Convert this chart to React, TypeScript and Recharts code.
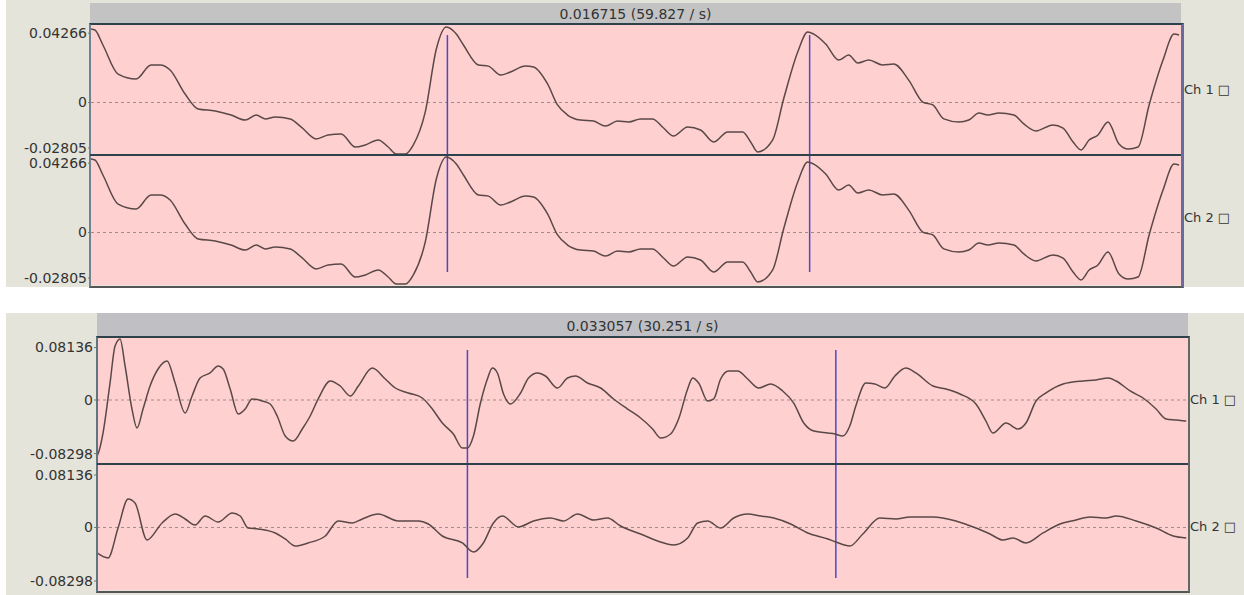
import React from "react"
import { LineChart, Line, XAxis, YAxis, CartesianGrid, ReferenceLine } from "recharts"

/* [time ms, amplitude] */
const topCh1: [number, number][] = [
  [0, 0.0452], [0.18, 0.0446], [0.55, 0.0354], [1.25, 0.0175], [2.08, 0.0145], [2.77, 0.0231],
  [3.19, 0.0231], [3.65, 0.02], [4.34, 0.0052], [4.94, -0.004], [5.73, -0.0052], [6.46, -0.0077],
  [7.11, -0.0108], [7.62, -0.0077], [8.03, -0.0101], [8.5, -0.0089], [9.19, -0.0101], [9.7, -0.0151],
  [10.39, -0.0224], [10.94, -0.02], [11.54, -0.0194], [12.19, -0.0274], [12.65, -0.0261], [13.25, -0.0231],
  [13.71, -0.0274], [14.08, -0.0317], [14.5, -0.0317], [14.87, -0.0261], [15.42, -0.0058], [15.93, 0.0329],
  [16.39, 0.0464], [16.85, 0.0421], [17.18, 0.0354], [17.87, 0.0231], [18.33, 0.0224], [18.89, 0.0169],
  [19.35, 0.0188], [20.04, 0.0224], [20.41, 0.0218], [21.06, 0.0114], [21.52, -0.0015], [21.98, -0.0077],
  [22.58, -0.0108], [23.18, -0.0114], [23.73, -0.0145], [24.29, -0.0114], [24.8, -0.012], [25.35, -0.0101],
  [25.9, -0.0101], [26.41, -0.0157], [26.87, -0.0206], [27.52, -0.0151], [28.12, -0.0169], [28.72, -0.0243],
  [29.37, -0.0181], [30.06, -0.0181], [30.43, -0.0243], [30.75, -0.0304], [31.44, -0.0231], [31.95, 0.0022],
  [32.6, 0.0311], [33.06, 0.0434], [33.34, 0.0421], [33.89, 0.036], [34.49, 0.0261], [34.95, 0.0292],
  [35.37, 0.0243], [35.88, 0.0261], [36.52, 0.0231], [37.03, 0.0237], [37.72, 0.0138], [38.37, 0.0003],
  [38.83, -0.0015], [39.34, -0.0101], [40.03, -0.012], [40.49, -0.0108], [40.96, -0.0065], [41.37, -0.0077],
  [41.88, -0.0065], [42.57, -0.0077], [43.03, -0.0132], [43.59, -0.0175], [44.37, -0.0138], [44.84, -0.0157],
  [45.3, -0.0243], [45.67, -0.0292], [46.04, -0.0231], [46.45, -0.02], [46.91, -0.012], [47.42, -0.0255],
  [47.84, -0.0286], [48.3, -0.0274], [48.81, -0.0015], [49.45, 0.0261], [49.96, 0.0421], [50.19, 0.0415],
]
// Ch 2 of the upper capture is drawn identical to Ch 1
const topCh2 = topCh1

const bottomCh1: [number, number][] = [
  [0, -0.0868], [0.09, -0.0837], [0.54, -0.0512], [1.17, 0.0264], [1.62, 0.0837], [2.07, 0.0946],
  [2.52, 0.0527], [3.14, -0.014], [3.59, -0.0434], [4.13, -0.014], [4.76, 0.0217], [5.48, 0.0481],
  [6.29, 0.0605], [7.01, 0.0264], [7.91, -0.0202], [8.53, 0.0062], [9.25, 0.0341], [10.15, 0.0419],
  [10.87, 0.0527], [11.32, 0.0481], [11.95, 0.0171], [12.67, -0.0217], [13.3, -0.014], [13.92, 0.0016],
  [14.82, -0.0016], [15.54, -0.0062], [16.17, -0.0248], [16.89, -0.0558], [17.61, -0.0636], [18.42, -0.045],
  [19.13, -0.0248], [19.85, 0.0016], [20.93, 0.0295], [21.83, 0.0217], [22.73, 0.0062], [23.45, 0.0217],
  [24.7, 0.0496], [25.87, 0.0326], [26.77, 0.0186], [27.94, 0.0109], [29.19, 0.0031], [30.09, -0.014],
  [30.99, -0.0357], [31.98, -0.0527], [32.79, -0.0744], [33.24, -0.0744], [33.78, -0.0558], [34.41, -0.0047],
  [35.03, 0.0326], [35.48, 0.0496], [35.93, 0.0419], [36.48, 0.0093], [37.11, -0.0062], [38.01, 0.0109],
  [38.72, 0.0341], [39.53, 0.0419], [40.24, 0.0372], [41.32, 0.0186], [42.22, 0.0341], [42.94, 0.0372],
  [44.02, 0.0264], [45.19, 0.0186], [46.35, 0.0016], [47.61, -0.014], [48.78, -0.0279], [49.86, -0.045],
  [50.58, -0.0589], [51.47, -0.0527], [52.19, -0.0295], [53.0, 0.0171], [53.45, 0.0341], [53.99, 0.0264],
  [54.8, -0.0016], [55.34, 0.0016], [55.96, 0.0326], [56.68, 0.045], [57.49, 0.045], [58.39, 0.0326],
  [59.38, 0.0186], [60.46, 0.0248], [61.53, 0.014], [62.52, -0.0047], [63.42, -0.0357], [64.32, -0.0481],
  [65.58, -0.0512], [66.21, -0.0527], [66.92, -0.0558], [67.55, -0.0403], [68.09, -0.0093], [68.99, 0.0264],
  [69.8, 0.0248], [70.7, 0.0186], [71.6, 0.0372], [72.58, 0.0496], [73.48, 0.0419], [75.01, 0.0217],
  [76.18, 0.0171], [77.44, 0.0093], [78.87, -0.0062], [79.77, -0.0326], [80.4, -0.0512], [81.57, -0.0357],
  [82.65, -0.045], [83.36, -0.0357], [84.26, -0.0016], [85.16, 0.0109], [86.69, 0.0248], [88.48, 0.0295],
  [89.65, 0.031], [90.73, 0.0341], [91.45, 0.0295], [92.71, 0.014], [93.87, 0.0031], [95.04, -0.014],
  [95.94, -0.0295], [96.84, -0.031], [97.74, -0.0326],
]

const bottomCh2: [number, number][] = [
  [0, -0.0395], [0.99, -0.0473], [1.89, -0.0008], [2.79, 0.0442], [3.41, 0.038], [4.49, -0.0194],
  [5.84, 0.007], [7.01, 0.0209], [7.91, 0.0132], [8.8, 0.0039], [9.7, 0.0178], [10.87, 0.0085],
  [12.13, 0.0225], [12.85, 0.0178], [13.56, -0.0008], [14.46, -0.0023], [15.99, -0.0085], [16.89, -0.0178],
  [17.79, -0.0287], [18.95, -0.024], [20.48, -0.0132], [21.65, 0.0101], [22.91, 0.007], [23.81, 0.0132],
  [25.24, 0.0209], [27.04, 0.0101], [28.84, 0.0101], [29.73, 0.0054], [30.99, -0.0132], [32.79, -0.024],
  [33.78, -0.038], [34.67, -0.024], [35.57, 0.007], [36.38, 0.0178], [37.82, 0.0008], [39.17, 0.0101],
  [40.69, 0.0147], [41.86, 0.0101], [43.12, 0.0209], [44.56, 0.0116], [45.81, 0.0147], [46.98, 0.0023],
  [48.78, -0.0101], [50.31, -0.0209], [51.74, -0.0271], [53.0, -0.0163], [53.9, 0.007], [54.8, 0.0101],
  [55.96, -0.0008], [57.13, 0.0147], [58.39, 0.0209], [59.56, 0.0178], [60.73, 0.0147], [62.25, 0.0054],
  [63.78, -0.0085], [65.58, -0.0178], [66.3, -0.0225], [67.55, -0.0287], [68.72, -0.0101], [70.25, 0.0147],
  [71.69, 0.0132], [72.94, 0.0163], [75.01, 0.0163], [77.07, 0.0101], [78.87, -0.0008], [80.13, -0.0101],
  [81.3, -0.0194], [82.2, -0.0163], [83.36, -0.024], [84.89, -0.0085], [86.42, 0.0054], [87.85, 0.0116],
  [89.11, 0.0163], [90.55, 0.0147], [91.45, 0.0178], [93.25, 0.0101], [95.04, -0.0008], [96.57, -0.0132],
  [97.74, -0.0163],
]

const topTicks = [-0.02805, 0, 0.04266]
const bottomTicks = [-0.08298, 0, 0.08136]
const topCursors = [16.44, 33.15]
const bottomCursors = [33.24, 66.3]
const topTitle = "0.016715 (59.827 / s)"
const bottomTitle = "0.033057 (30.251 / s)"

const FONT = "'DejaVu Sans', sans-serif"
const PINK = "#ffd0d0"
const TRACE = "#5a4848"
const CURSOR = "#4a4ac8"
const FRAME = "#2e424c"
const GREY = "#e4e4da"

interface ChProps {
  data: [number, number][]
  xMax: number
  domain: [number, number]
  ticks: number[]
  cursors: number[]
  cursorFrom: number
  cursorTo: number
  left: number
  top: number
  width: number
  height: number
  axisW: number
}

function Channel(p: ChProps) {
  const rows = p.data.map(([t, v]) => ({ t, v }))
  return (
    <div style={{ position: "absolute", left: p.left, top: p.top }}>
      <LineChart width={p.width} height={p.height} data={rows}
        margin={{ top: 0, right: 0, bottom: 0, left: 0 }}>
        <CartesianGrid fill={PINK} horizontal={false} vertical={false} />
        <XAxis dataKey="t" type="number" domain={[0, p.xMax]} hide allowDataOverflow />
        <YAxis type="number" domain={p.domain} ticks={p.ticks} width={p.axisW}
          allowDataOverflow interval={0} axisLine={false}
          tickSize={3} tickMargin={1} tickLine={{ stroke: "#777" }}
          tick={{ fontSize: 14, fill: "#333", fontFamily: FONT }} />
        <ReferenceLine y={0} stroke="#a08c8c" strokeDasharray="3 3" />
        {p.cursors.map((c) => (
          <ReferenceLine key={c} segment={[{ x: c, y: p.cursorFrom }, { x: c, y: p.cursorTo }]}
            stroke={CURSOR} strokeWidth={1.5} ifOverflow="visible" />
        ))}
        <Line type="monotone" dataKey="v" stroke={TRACE} strokeWidth={1.5}
          dot={false} isAnimationActive={false} />
      </LineChart>
    </div>
  )
}

const label: React.CSSProperties = {
  position: "absolute", fontFamily: FONT, fontSize: 13, color: "#333", whiteSpace: "nowrap",
}

export default function App() {
  return (
    <div style={{ position: "absolute", left: 0, top: 0, width: 1244, height: 595, background: "#fff", overflow: "hidden" }}>
      {/* upper capture */}
      <div style={{ position: "absolute", left: 6, top: 0, width: 1238, height: 287, background: GREY }} />
      <div style={{ position: "absolute", left: 90, top: 3, width: 1091, height: 22, background: "#c3c3c3",
        fontFamily: FONT, fontSize: 14, color: "#333", textAlign: "center", lineHeight: "22px" }}>{topTitle}</div>
      <Channel data={topCh1} xMax={50.28} domain={[-0.0323, 0.0477]} ticks={topTicks}
        cursors={topCursors} cursorFrom={0.0415} cursorTo={-0.0323}
        left={6} top={25} width={1175} height={130} axisW={85} />
      <Channel data={topCh2} xMax={50.28} domain={[-0.0323, 0.0477]} ticks={topTicks}
        cursors={topCursors} cursorFrom={0.0477} cursorTo={-0.0243}
        left={6} top={155} width={1175} height={130} axisW={85} />
      <div style={{ position: "absolute", left: 89, top: 23, width: 1090, height: 261,
        borderTop: `2px solid ${FRAME}`, borderLeft: "2px solid #708290", borderBottom: "2px solid #555",
        borderRight: "3px solid #6a6a9c" }} />
      <div style={{ position: "absolute", left: 90, top: 154, width: 1091, height: 2, background: FRAME }} />
      <div style={{ ...label, left: 1184, top: 82 }}>Ch 1 □</div>
      <div style={{ ...label, left: 1184, top: 210 }}>Ch 2 □</div>

      {/* lower capture */}
      <div style={{ position: "absolute", left: 6, top: 313, width: 1238, height: 282, background: GREY }} />
      <div style={{ position: "absolute", left: 97, top: 313, width: 1091, height: 24, background: "#c0c0c4",
        fontFamily: FONT, fontSize: 14, color: "#333", textAlign: "center", lineHeight: "26px" }}>{bottomTitle}</div>
      <Channel data={bottomCh1} xMax={97.9} domain={[-0.0992, 0.0961]} ticks={bottomTicks}
        cursors={bottomCursors} cursorFrom={0.0775} cursorTo={-0.0992}
        left={6} top={338} width={1182} height={126} axisW={91} />
      <Channel data={bottomCh2} xMax={97.9} domain={[-0.0969, 0.0984]} ticks={bottomTicks}
        cursors={bottomCursors} cursorFrom={0.0984} cursorTo={-0.0783}
        left={6} top={464} width={1182} height={126} axisW={91} />
      <div style={{ position: "absolute", left: 96, top: 336, width: 1090, height: 253,
        borderTop: `2px solid ${FRAME}`, borderLeft: "2px solid #5e7480", borderBottom: "2px solid #555",
        borderRight: "2px solid #666" }} />
      <div style={{ position: "absolute", left: 97, top: 463, width: 1091, height: 2, background: FRAME }} />
      <div style={{ ...label, left: 1190, top: 392 }}>Ch 1 □</div>
      <div style={{ ...label, left: 1190, top: 519 }}>Ch 2 □</div>
    </div>
  )
}
